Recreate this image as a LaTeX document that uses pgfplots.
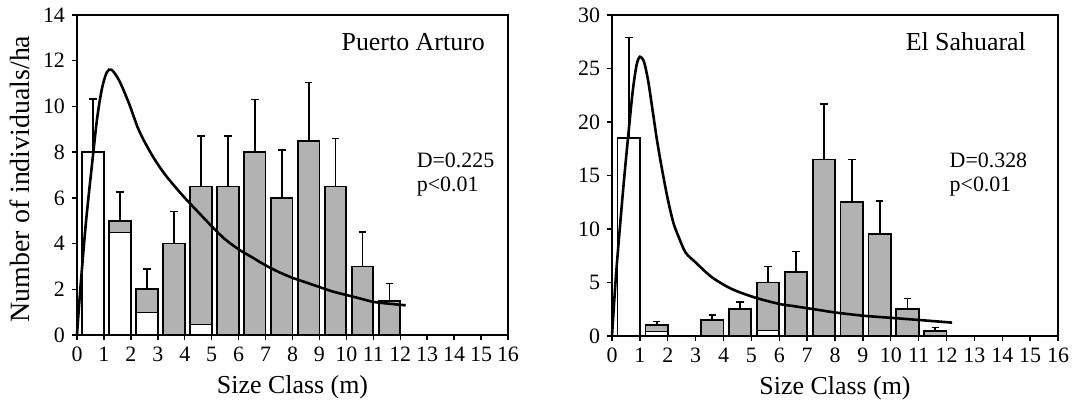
\documentclass[border=0pt]{standalone}
\usepackage{fontspec}
\setmainfont{Liberation Serif}
\usepackage{pgfplots}
\usepackage{pgfplotstable}
\pgfplotsset{compat=1.18}
\definecolor{bargray}{gray}{0.70}

% ---- Puerto Arturo ----
\pgfplotstableread{
x y e
0.6 8 2.33
1.6 5 1.27
2.6 2 0.9
3.6 4 1.4
4.6 6.5 2.2
5.6 6.5 2.2
6.6 8 2.3
7.6 6 2.1
8.6 8.5 2.55
9.6 6.5 2.1
10.6 3 1.5
11.6 1.5 0.75
}\errA
\pgfplotstableread{
x y
1.6 5
2.6 2
3.6 4
4.6 6.5
5.6 6.5
6.6 8
7.6 6
8.6 8.5
9.6 6.5
10.6 3
11.6 1.5
}\grayA
\pgfplotstableread{
x y
1.6 4.5
2.6 1
4.6 0.45
}\whiteA
\pgfplotstableread{
x y
0 0
0.12 1.96
0.33 4.9
0.57 7.6
0.75 9.5
0.93 10.8
1.11 11.5
1.29 11.6
1.58 11.1
1.94 10.1
2.30 8.95
2.77 7.9
3.25 7.05
3.85 6.2
4.44 5.45
5.39 4.3
6 3.75
6.5 3.4
7 3.05
7.5 2.75
8 2.5
8.5 2.3
9 2.1
9.5 1.9
10 1.75
10.5 1.6
11 1.45
11.5 1.38
12.2 1.3
}\curveA

% ---- El Sahuaral ----
\pgfplotstableread{
x y e
0.6 18.5 9.4
1.6 1 0.35
3.6 1.5 0.45
4.6 2.5 0.65
5.6 5 1.5
6.6 6 1.9
7.6 16.5 5.2
8.6 12.5 4.0
9.6 9.5 3.1
10.6 2.5 1.0
11.6 0.5 0.3
}\errB
\pgfplotstableread{
x y
1.6 1
3.6 1.5
4.6 2.5
5.6 5
6.6 6
7.6 16.5
8.6 12.5
9.6 9.5
10.6 2.5
11.6 0.5
}\grayB
\pgfplotstableread{
x y
1.6 0.47
5.6 0.5
}\whiteB
\pgfplotstableread{
x y
0 0
0.15 5.9
0.39 13.4
0.57 18.4
0.74 22.8
0.88 25.3
1.0 26.1
1.15 25.6
1.3 23.8
1.45 21.2
1.62 18.2
1.8 15.5
2.0 12.8
2.2 10.6
2.4 9.2
2.64 7.8
2.99 6.9
3.58 5.5
4.29 4.4
5.12 3.6
6 3.0
6.5 2.8
7 2.6
7.5 2.4
8 2.2
9 1.9
10 1.7
11 1.5
12.2 1.25
}\curveB

\tikzset{dtext/.style={anchor=west, align=left, inner sep=0pt, font=\fontsize{11}{12}\selectfont}}
\pgfplotsset{
  myax/.style={
    scale only axis,
    xmin=0, xmax=16, ymin=0,
    xtick={0,...,16},
    tick align=outside, tick pos=left,
    major tick length=2.5bp,
    axis line style={line width=0.7pt},
    every tick/.style={black, line width=0.7pt},
    xlabel={Size Class (m)},
    /pgf/number format/assume math mode=true,
    font=\fontsize{13}{15}\selectfont,
    tick label style={font=\fontsize{11}{13}\selectfont},
    xticklabel style={inner xsep=0pt},
    clip=false,
  },
  gbar/.style={ybar, bar width=0.8, bar shift=0pt, fill=bargray, draw=black, line width=0.9pt},
  wbar/.style={ybar, bar width=0.8, bar shift=0pt, fill=white, draw=black, line width=0.35pt},
  obar/.style={ybar, bar width=0.8, bar shift=0pt, fill=none, draw=black, line width=0.9pt},
  ebar/.style={sharp plot, draw=none, mark=none, forget plot,
    error bars/.cd, y dir=plus, y explicit,
    error bar style={draw=black, solid, line width=0.9pt},
    error mark options={rotate=90, draw=black, solid, mark size=1.9bp, line width=0.9pt}},
  fit/.style={black, line width=1.3pt, smooth, mark=none},
}

\begin{document}
\begin{tikzpicture}
\begin{axis}[myax, at={(0bp,0bp)}, anchor=south west,
  width=215.5bp, height=160bp, ymax=14, ytick={0,2,...,14},
  ylabel={Number of individuals/ha},
  ylabel style={font=\fontsize{14}{16}\selectfont, xshift=-2bp}]
\addplot[ebar] table[x=x, y=y, y error=e] {\errA};
\addplot[gbar] table[x=x, y=y] {\grayA};
\addplot[wbar] table[x=x, y=y] {\whiteA};
\addplot[obar] table[x=x, y=y] {\grayA};
\addplot[ybar, bar width=0.8, bar shift=0pt, fill=white, draw=black, line width=0.9pt] coordinates {(0.6,8)};
\addplot[fit] table[x=x, y=y] {\curveA};
\node[anchor=east] at (axis cs:15.4,12.8) {Puerto Arturo};
\node[dtext] at (axis cs:12.6,7.0) {D=0.225\\p<0.01};
\end{axis}
\begin{axis}[myax, at={(267.5bp,-0.5bp)}, anchor=south west,
  width=223bp, height=160.5bp, ymax=30, ytick={0,5,...,30}]
\addplot[ebar] table[x=x, y=y, y error=e] {\errB};
\addplot[gbar] table[x=x, y=y] {\grayB};
\addplot[wbar] table[x=x, y=y] {\whiteB};
\addplot[obar] table[x=x, y=y] {\grayB};
\addplot[ybar, bar width=0.8, bar shift=0pt, fill=white, draw=black, line width=0.9pt] coordinates {(0.6,18.5)};
\addplot[fit] table[x=x, y=y] {\curveB};
\node[anchor=east] at (axis cs:15.1,27.5) {El Sahuaral};
\node[dtext] at (axis cs:12.1,15.1) {D=0.328\\p<0.01};
\end{axis}
\pgfresetboundingbox
\path[use as bounding box] (-38.5bp,-34.5bp) rectangle (499bp,167.5bp);
\end{tikzpicture}
\end{document}
